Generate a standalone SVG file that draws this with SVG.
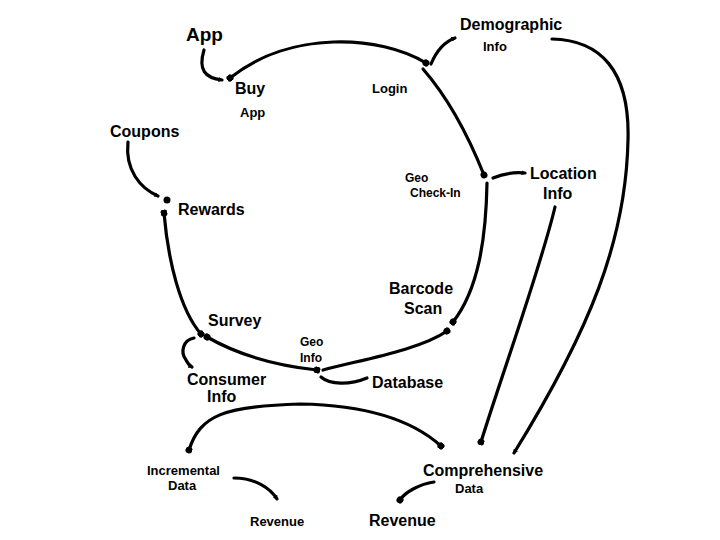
<svg xmlns="http://www.w3.org/2000/svg" width="720" height="540" viewBox="0 0 720 540">
<defs>
<style>
.c{fill:none;stroke:#000;stroke-width:3.2;stroke-linecap:round;stroke-linejoin:round}
.t{font-family:"Liberation Sans","DejaVu Sans",sans-serif;font-weight:bold;fill:#000}
.l{font-size:19px}
.m{font-size:16px}
.s{font-size:13px}
.xs{font-size:12px}
</style>
<marker id="a" viewBox="0 0 10 10" refX="7" refY="5" markerWidth="5" markerHeight="5" orient="auto-start-reverse" markerUnits="userSpaceOnUse">
<path d="M0,0 L10,5 L0,10 z" fill="#000"/>
</marker>
<marker id="d" viewBox="0 0 10 10" refX="5" refY="5" markerWidth="7" markerHeight="7" orient="auto" markerUnits="userSpaceOnUse">
<circle cx="5" cy="5" r="5" fill="#000"/>
</marker>
</defs>
<rect width="720" height="540" fill="#fff"/>
<g id="connectors">
<path class="c" d="M204,50 C198,70 205,78 222,80" marker-end="url(#a)"/>
<path class="c" d="M230,78 C290,30 380,35 426,63" marker-start="url(#d)" marker-end="url(#d)"/>
<path class="c" d="M431,64 C436,52 444,42 455,38" marker-end="url(#a)"/>
<path class="c" d="M423,69 C450,100 470,140 484,175" marker-end="url(#d)"/>
<path class="c" d="M493,178 C505,173 515,172 525,173" marker-end="url(#a)"/>
<path class="c" d="M552,39 C600,40 630,70 628,140 C626,240 590,330 514,453" marker-end="url(#a)"/>
<path class="c" d="M555,207 C540,270 500,380 481,442" marker-end="url(#d)"/>
<path class="c" d="M487,183 C486,240 478,290 453,322" marker-end="url(#d)"/>
<path class="c" d="M447,331 C420,350 360,360 323,370" marker-start="url(#d)"/>
<path class="c" d="M207,337 C240,356 280,366 317,370" marker-start="url(#d)" marker-end="url(#d)"/>
<path class="c" d="M164,213 C168,260 180,310 201,334" marker-start="url(#d)" marker-end="url(#d)"/>
<circle cx="167" cy="200" r="3.5" fill="#000"/>
<path class="c" d="M128,142 C125,170 140,188 158,196" marker-end="url(#a)"/>
<path class="c" d="M194,338 C183,340 180,352 186,360 C188,364 190,366 192,367" marker-end="url(#a)"/>
<path class="c" d="M321,377 C330,385 350,385 367,378"/>
<path class="c" d="M189,450 C200,415 225,406 300,404 C360,405 410,418 441,446" marker-start="url(#d)" marker-end="url(#d)"/>
<path class="c" d="M234,478 C255,478 270,488 277,499" marker-end="url(#a)"/>
<path class="c" d="M434,482 C420,484 405,492 400,500" marker-end="url(#d)"/>
</g>
<g id="app"><text class="t l" x="186" y="41">App</text></g>
<g id="buy-app"><text class="t m" x="235" y="94">Buy</text><text class="t s" x="240" y="117">App</text></g>
<g id="login"><text class="t s" x="372" y="93">Login</text></g>
<g id="demographic-info"><text class="t m" x="460" y="30">Demographic</text><text class="t s" x="483" y="51">Info</text></g>
<g id="geo-checkin"><text class="t xs" x="405" y="182">Geo</text><text class="t xs" x="410" y="197">Check-In</text></g>
<g id="location-info"><text class="t m" x="530" y="179">Location</text><text class="t m" x="543" y="199">Info</text></g>
<g id="coupons"><text class="t m" x="110" y="137">Coupons</text></g>
<g id="rewards"><text class="t m" x="178" y="215">Rewards</text></g>
<g id="barcode-scan"><text class="t m" x="389" y="294">Barcode</text><text class="t m" x="404" y="314">Scan</text></g>
<g id="survey"><text class="t m" x="208" y="326">Survey</text></g>
<g id="geo-info"><text class="t xs" x="300" y="346">Geo</text><text class="t xs" x="300" y="362">Info</text></g>
<g id="database"><text class="t m" x="372" y="388">Database</text></g>
<g id="consumer-info"><text class="t m" x="187" y="385">Consumer</text><text class="t m" x="207" y="402">Info</text></g>
<g id="incremental-data"><text class="t s" x="147" y="475">Incremental</text><text class="t s" x="168" y="490">Data</text></g>
<g id="revenue-1"><text class="t s" x="250" y="526">Revenue</text></g>
<g id="comprehensive-data"><text class="t m" x="423" y="476">Comprehensive</text><text class="t s" x="455" y="493">Data</text></g>
<g id="revenue-2"><text class="t m" x="369" y="526">Revenue</text></g>
</svg>
